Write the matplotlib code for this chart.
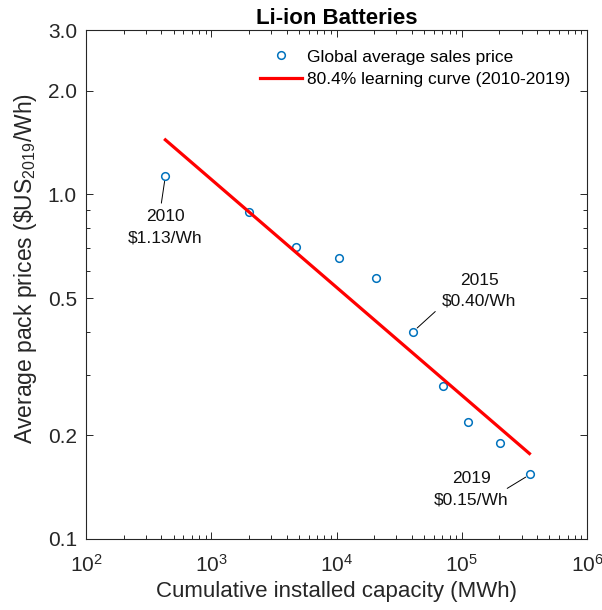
import matplotlib
matplotlib.use('Agg')
import matplotlib.pyplot as plt
from matplotlib.ticker import FixedLocator, FixedFormatter, LogLocator, NullFormatter

plt.rcParams['font.family'] = ['Liberation Sans', 'DejaVu Sans']
plt.rcParams['mathtext.fontset'] = 'custom'
plt.rcParams['mathtext.rm'] = 'Liberation Sans'
plt.rcParams['mathtext.it'] = 'Liberation Sans'

# datos
capacity = [430, 2000, 4780, 10470, 20700, 41000, 70800, 112800, 201000, 352000]   # MWh
price = [1.13, 0.887, 0.704, 0.654, 0.572, 0.40, 0.278, 0.218, 0.190, 0.154]       # $/Wh
curve_x = [430, 347000]
curve_y = [1.44, 0.177]

yticks = [0.1, 0.2, 0.5, 1.0, 2.0, 3.0]
ytick_labels = ['0.1', '0.2', '0.5', '1.0', '2.0', '3.0']

notes = [(0, '2010\n\\$1.13/Wh'), (5, '2015\n\\$0.40/Wh'), (9, '2019\n\\$0.15/Wh')]
note_text_off = [(0, -51), (66, 41), (-59, -15)]
note_line_off = [(-4, -27), (22, 20), (-23, -14)]

dark = '#262626'
fig = plt.figure(figsize=(6.02, 6.10), dpi=100)
ax = fig.add_axes([0.1429, 0.1164, 0.8322, 0.8344])

ax.plot(capacity, price, 'o', mfc='none', mec='#0072BD', mew=1.1, ms=5.5,
        label='Global average sales price')
ax.plot(curve_x, curve_y, '-', color='#FF0000', lw=2.3,
        label='80.4% learning curve (2010-2019)')

ax.set_xscale('log')
ax.set_yscale('log')
ax.set_xlim(1e2, 1e6)
ax.set_ylim(0.1, 3.0)

ax.yaxis.set_major_locator(FixedLocator(yticks))
ax.yaxis.set_major_formatter(FixedFormatter(ytick_labels))
ax.yaxis.set_minor_locator(LogLocator(base=10, subs=range(2, 10), numticks=20))
ax.yaxis.set_minor_formatter(NullFormatter())
ax.xaxis.set_major_locator(LogLocator(base=10, numticks=10))
ax.xaxis.set_minor_locator(LogLocator(base=10, subs=range(2, 10), numticks=20))
ax.xaxis.set_minor_formatter(NullFormatter())

ax.tick_params(which='both', direction='in', top=True, right=True, colors=dark,
               labelsize=15, width=0.7)
ax.tick_params(which='major', length=5)
ax.tick_params(which='minor', length=3)
ax.tick_params(axis='x', pad=10.5)
ax.tick_params(axis='y', pad=6.5)
for s in ax.spines.values():
    s.set_color(dark)
    s.set_linewidth(0.8)

for (i, txt), toff, loff in zip(notes, note_text_off, note_line_off):
    ax.annotate('', xy=(capacity[i], price[i]), xytext=loff, textcoords='offset pixels',
                arrowprops=dict(arrowstyle='-', color='black', lw=0.7, shrinkA=0, shrinkB=3.8))
    ax.annotate(txt, xy=(capacity[i], price[i]), xytext=toff, textcoords='offset pixels',
                ha='center', va='center', fontsize=12.5, linespacing=1.5, color='#111111')

ax.set_title('Li-ion Batteries', fontsize=16, fontweight='bold', pad=4)
ax.set_xlabel('Cumulative installed capacity (MWh)', fontsize=16, color=dark, labelpad=4)
ax.set_ylabel('Average pack prices (\\$US$_{2019}$/Wh)', fontsize=16.5, color=dark)
ax.yaxis.set_label_coords(-0.094, 0.532)

ax.legend(loc='upper left', bbox_to_anchor=(0.347, 0.962), frameon=False, fontsize=12.5,
          handlelength=2.4, handletextpad=0.3, labelspacing=0.4, borderpad=0,
          borderaxespad=0, numpoints=1)

fig.savefig('out.png', dpi=100)
